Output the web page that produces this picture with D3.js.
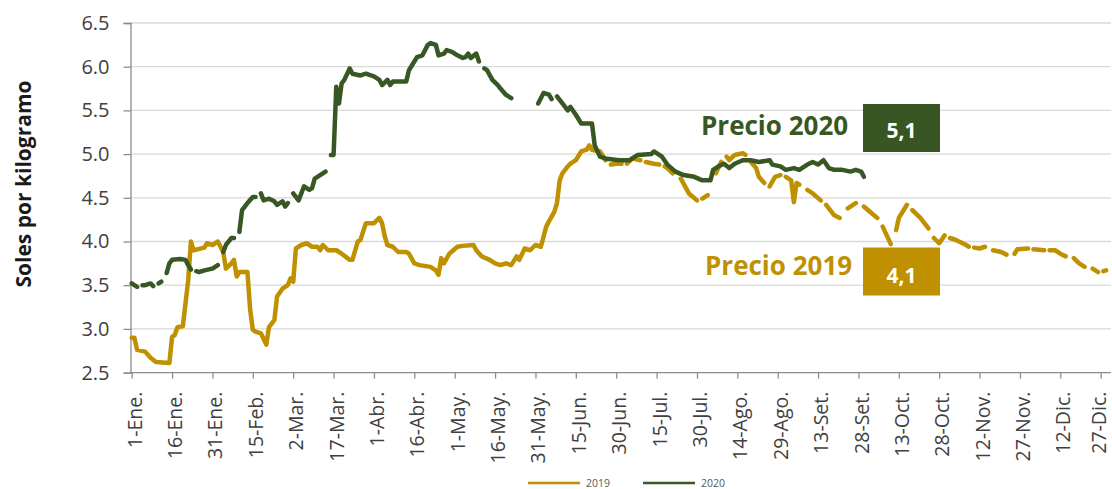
<!DOCTYPE html>
<html><head><meta charset="utf-8">
<script src="https://cdn.jsdelivr.net/npm/d3@7"></script>
<style>
body{margin:0;background:#fff;}
svg{display:block;font-family:"Open Sans",sans-serif;}
</style></head><body>
<svg id="c" width="1112" height="489"></svg>
<script>
// ---- data ----
const tickLabels = ["1-Ene.","16-Ene.","31-Ene.","15-Feb.","2-Mar.","17-Mar.","1-Abr.","16-Abr.","1-May.","16-May.","31-May.","15-Jun.","30-Jun.","15-Jul.","30-Jul.","14-Ago.","29-Ago.","13-Set.","28-Set.","13-Oct.","28-Oct.","12-Nov.","27-Nov.","12-Dic.","27-Dic."];
const tickDays = [0,15,30,45,60,75,90,105,120,135,150,165,180,195,210,225,240,255,270,285,300,315,330,345,360];
const yTicks = [2.5,3.0,3.5,4.0,4.5,5.0,5.5,6.0,6.5];
const seriesNames = ["2019","2020"];
// [day of year, price]; null = no data
const price2019 = [[0,2.90],[1,2.90],[2,2.76],[5,2.74],[7,2.67],[9,2.62],[14,2.61],[15,2.91],[16,2.93],[17,3.02],[19,3.03],[21,3.56],[22,4.00],[23,3.90],[27,3.93],[28,3.98],[30,3.96],[32,4.00],[33,3.94],[34,3.88],[35,3.69],[37,3.75],[38,3.79],[39,3.60],[40,3.65],[43,3.65],[44,3.22],[45,2.99],[46,2.97],[48,2.95],[50,2.82],[51,3.02],[53,3.10],[54,3.37],[56,3.46],[58,3.50],[59,3.58],[60,3.54],[61,3.92],[63,3.96],[65,3.98],[67,3.94],[69,3.94],[70,3.90],[71,3.96],[73,3.90],[76,3.90],[78,3.86],[81,3.79],[82,3.79],[84,4.00],[85,4.02],[87,4.21],[90,4.21],[92,4.27],[93,4.21],[94,4.06],[95,3.96],[97,3.94],[99,3.88],[102,3.88],[103,3.86],[105,3.75],[107,3.73],[111,3.71],[113,3.67],[114,3.62],[115,3.81],[116,3.75],[118,3.86],[121,3.94],[123,3.95],[127,3.96],[128,3.90],[130,3.83],[133,3.79],[135,3.75],[137,3.73],[139,3.75],[141,3.73],[143,3.83],[144,3.79],[146,3.92],[148,3.90],[150,3.96],[152,3.94],[154,4.17],[155,4.23],[157,4.34],[158,4.44],[159,4.70],[160,4.78],[162,4.86],[163,4.89],[165,4.93],[167,5.03],[169,5.05],[170,5.10],[171,5.05],[174,5.03],[176,4.93],[177,null],[178,4.88],[180,4.89],[182,4.89],[183,null],[184,4.89],[186,4.95],[189,4.93],[190,null],[191,4.91],[194,4.89],[196,4.88],[197,null],[198,4.86],[199,4.84],[201,4.78],[203,null],[204,4.72],[207,4.55],[210,4.47],[211,null],[212,4.49],[214,4.53],[215,null],[217,4.78],[219,4.91],[220,null],[221,4.97],[222,4.93],[224,4.99],[227,5.01],[228,4.99],[229,null],[230,4.91],[232,4.84],[233,4.74],[235,4.67],[236,null],[237,4.63],[239,4.74],[241,4.76],[242,null],[243,4.74],[245,4.70],[246,4.45],[247,4.67],[248,4.65],[249,null],[251,4.59],[253,4.55],[256,4.47],[257,null],[258,4.42],[261,4.30],[263,4.27],[264,null],[266,4.38],[269,4.44],[270,null],[272,4.40],[275,4.32],[277,4.27],[278,null],[279,4.17],[282,3.97],[283,null],[284,4.13],[285,4.27],[288,4.42],[289,null],[290,4.36],[293,4.27],[296,4.15],[297,null],[298,4.04],[300,3.98],[302,4.07],[303,null],[304,4.04],[306,4.02],[310,3.96],[311,3.94],[312,null],[313,3.93],[315,3.92],[317,3.94],[318,null],[320,3.90],[323,3.88],[325,3.85],[326,null],[328,3.86],[329,3.91],[333,3.92],[334,null],[335,3.91],[339,3.90],[340,null],[341,3.90],[343,3.90],[345,3.86],[347,3.83],[348,null],[350,3.81],[352,3.75],[354,3.71],[355,null],[357,3.69],[359,3.65],[360,null],[361,3.66],[362,3.67]];
const price2020 = [[0,3.52],[2,3.48],[3,null],[4,3.50],[5,3.50],[7,3.52],[8,3.49],[9,null],[10,3.52],[11,3.54],[12,null],[13,3.64],[14,3.75],[15,3.79],[18,3.80],[20,3.79],[21,3.73],[22,3.68],[23,null],[24,3.66],[25,3.65],[27,3.67],[30,3.69],[32,3.73],[33,null],[34,3.88],[35,3.96],[37,4.04],[38,4.04],[39,null],[40,4.11],[41,4.36],[43,4.44],[45,4.51],[46,4.51],[47,null],[48,4.55],[49,4.47],[51,4.49],[53,4.46],[54,4.42],[56,4.46],[57,4.40],[58,4.44],[59,null],[60,4.55],[62,4.47],[64,4.63],[66,4.59],[67,4.61],[68,4.72],[69,4.74],[71,4.78],[72,4.80],[73,null],[74,4.99],[75,4.99],[76,5.77],[77,5.58],[78,5.81],[79,5.85],[81,5.98],[82,5.92],[85,5.90],[87,5.92],[90,5.89],[92,5.85],[93,5.79],[95,5.85],[96,5.79],[97,5.83],[102,5.83],[103,5.96],[105,6.06],[106,6.11],[108,6.13],[110,6.25],[111,6.27],[113,6.25],[114,6.13],[116,6.15],[117,6.19],[119,6.17],[121,6.13],[123,6.10],[124,6.11],[125,6.15],[126,6.10],[128,6.15],[129,6.06],[130,null],[131,5.98],[132,5.96],[134,5.85],[136,5.79],[137,5.75],[139,5.68],[141,5.64],[142,null],[151,5.58],[153,5.70],[155,5.68],[156,5.63],[157,null],[158,5.66],[160,5.58],[162,5.50],[163,5.54],[165,5.45],[167,5.35],[171,5.35],[172,5.10],[174,4.97],[176,4.95],[181,4.93],[185,4.93],[188,4.99],[193,5.00],[194,5.03],[197,4.97],[199,4.88],[202,4.80],[205,4.76],[209,4.74],[212,4.70],[215,4.70],[216,4.82],[218,4.86],[220,4.89],[222,4.84],[224,4.89],[227,4.93],[230,4.93],[233,4.91],[237,4.93],[238,4.88],[241,4.86],[243,4.82],[246,4.84],[248,4.82],[251,4.88],[253,4.91],[255,4.88],[257,4.93],[259,4.84],[261,4.82],[264,4.82],[267,4.80],[269,4.82],[271,4.80],[272,4.74]];
const annotations = [
  {series:"2020", title:"Precio 2020", value:"5,1"},
  {series:"2019", title:"Precio 2019", value:"4,1"}
];

// ---- layout / style ----
const colors = {"2019":"#BF9000","2020":"#385723"};
const svg = d3.select("#c");
const x = d3.scaleLinear().domain([0,364]).range([131.7,1111.5]);
const y = d3.scaleLinear().domain([2.5,6.5]).range([372.6,23]);

// gridlines
svg.append("g").selectAll("line").data(yTicks.filter(v=>v>2.5)).join("line")
  .attr("x1",130).attr("x2",1111).attr("y1",d=>y(d)).attr("y2",d=>y(d))
  .attr("stroke","#d9d9d9").attr("stroke-width",1.3);

// y axis
const gy = svg.append("g").attr("transform","translate(130.5,0)")
  .call(d3.axisLeft(y).tickValues(yTicks).tickFormat(d3.format(".1f")).tickSize(7).tickPadding(14));
gy.select(".domain").attr("stroke","#8c8c8c").attr("stroke-width",1.3);
gy.selectAll(".tick line").attr("stroke","#8c8c8c").attr("stroke-width",1.3);
gy.selectAll(".tick text").attr("font-size",20).attr("fill","#404040").attr("font-family","Open Sans");

// x axis
const gx = svg.append("g").attr("transform","translate(0,372.6)")
  .call(d3.axisBottom(x).tickValues(tickDays).tickSize(6).tickSizeOuter(0).tickFormat((d,i)=>tickLabels[i]));
gx.select(".domain").attr("d","M130,0H1111").attr("stroke","#8c8c8c").attr("stroke-width",1.3);
gx.selectAll(".tick line").attr("stroke","#8c8c8c").attr("stroke-width",1.3);
const nT = tickLabels.length;
gx.selectAll(".tick text")
  .attr("font-size",19.5).attr("fill","#404040").attr("font-family","Open Sans")
  .attr("text-anchor","end").attr("x",0).attr("y",0).attr("dy","0.36em")
  .attr("transform",(d,i)=>`translate(${i===nT-1?-2:2.5},19) rotate(-90)`);

// y title
svg.append("text").attr("transform","translate(31,184) rotate(-90)")
  .attr("text-anchor","middle").attr("font-size",21).attr("font-weight","bold")
  .attr("fill","#1a1a1a").text("Soles por kilogramo");

// lines
const line = d3.line().defined(d=>d[1]!==null).x(d=>x(d[0])).y(d=>y(d[1]));
const seriesData = {"2019":price2019,"2020":price2020};
seriesNames.forEach(s=>{
  svg.append("path").datum(seriesData[s]).attr("d",line)
    .attr("fill","none").attr("stroke",colors[s]).attr("stroke-width",4.5)
    .attr("stroke-linejoin","round").attr("stroke-linecap","round");
});

// annotations
const annPos = {"2020":{tx:701,ty:135,bx:863,by:104,cy:138},"2019":{tx:705,ty:275,bx:863,by:247.5,cy:283}};
annotations.forEach(a=>{
  const p = annPos[a.series];
  svg.append("text").attr("x",p.tx).attr("y",p.ty).attr("font-size",26).attr("font-weight","bold")
    .attr("fill",colors[a.series]).text(a.title);
  svg.append("rect").attr("x",p.bx).attr("y",p.by).attr("width",77).attr("height",48)
    .attr("fill",a.series==="2020"?"#375623":"#BF9000");
  svg.append("text").attr("x",p.bx+38.5).attr("y",p.cy).attr("text-anchor","middle")
    .attr("font-size",21).attr("font-weight","bold").attr("fill","#fff").text(a.value);
});

// legend
const leg = svg.append("g");
const legPos = {"2019":528,"2020":643};
seriesNames.forEach(s=>{
  const lx = legPos[s];
  leg.append("line").attr("x1",lx).attr("x2",lx+52).attr("y1",483).attr("y2",483)
    .attr("stroke",colors[s]).attr("stroke-width",2.5);
  leg.append("text").attr("x",lx+58).attr("y",483).attr("dy","0.35em")
    .attr("font-size",10.5).attr("fill","#595959").text(s);
});
</script>
</body></html>
